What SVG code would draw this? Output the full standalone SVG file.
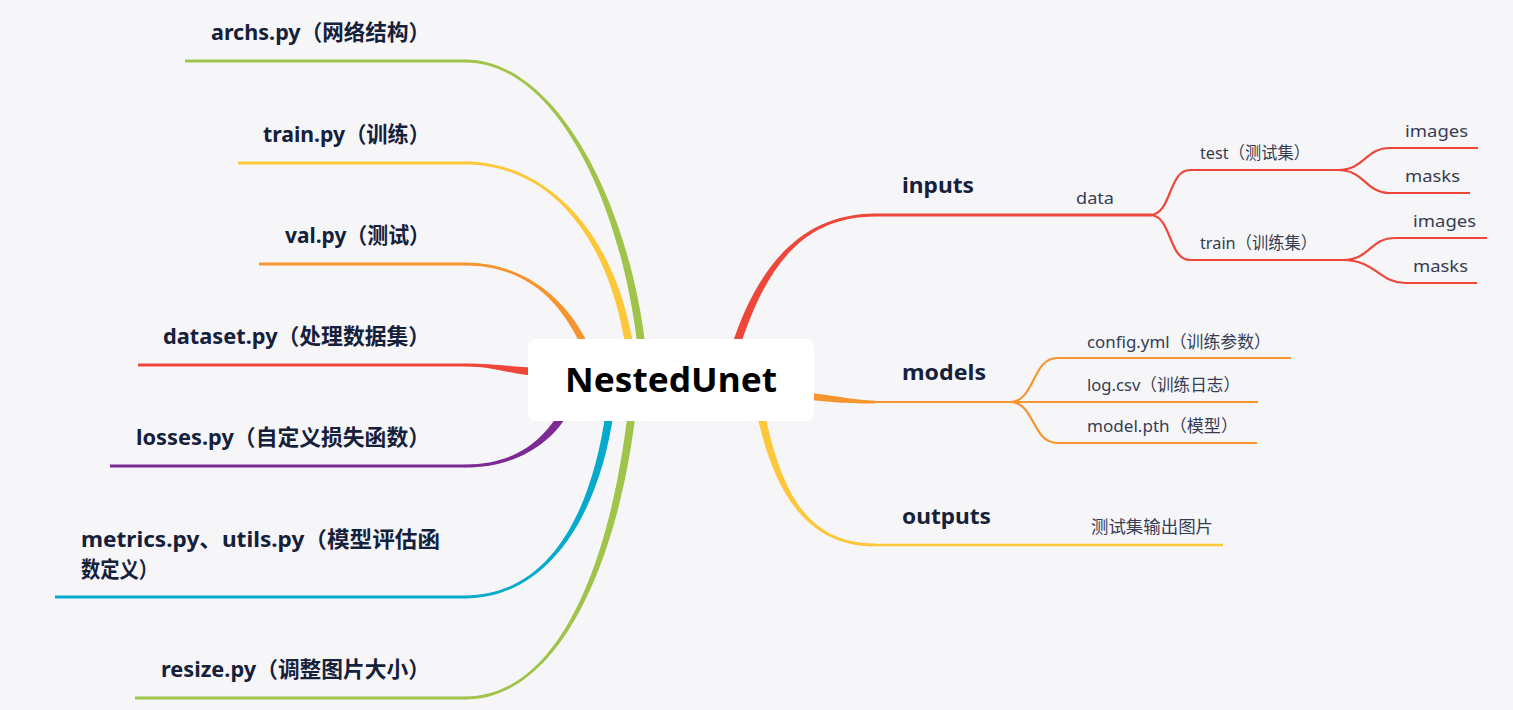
<svg xmlns="http://www.w3.org/2000/svg" width="1513" height="710" viewBox="0 0 1513 710">
<style>
.l1{font-family:"Noto Sans","Noto Sans CJK SC",sans-serif;font-weight:bold;font-size:22px;fill:#15203a}
.l2{font-family:"Noto Sans","Noto Sans CJK SC",sans-serif;font-size:17px;fill:#363d52}
.ln{fill:none;stroke-linecap:butt}
.red{stroke:#ef463a}.org{stroke:#f6952f}.yel{stroke:#fdc73a}.grn{stroke:#a0c34a}.pur{stroke:#7d2b93}.cyn{stroke:#06aacd}
</style>
<rect width="1513" height="710" fill="#f6f6f9"/>
<g id="connectors">
  <line class="ln grn" x1="185" y1="61" x2="466" y2="61" stroke-width="3"/>
  <path fill="#a0c34a" d="M465,59.5 C555,59.5 629,200 646,350 L638,350 C621,200 555,62.5 465,62.5 Z"/>
  <line class="ln yel" x1="238" y1="163" x2="466" y2="163" stroke-width="3"/>
  <path fill="#fdc73a" d="M465,161.5 C545,161.5 616,230 634,350 L626,350 C608,230 545,164.5 465,164.5 Z"/>
  <line class="ln org" x1="259" y1="264" x2="466" y2="264" stroke-width="3"/>
  <path fill="#f6952f" d="M465,262.5 C525,262.5 569,300 591,350 L583,350 C561,300 525,265.5 465,265.5 Z"/>
  <line class="ln red" x1="138" y1="365" x2="466" y2="365" stroke-width="3"/>
  <path fill="#ef463a" d="M465,363.5 C495,363.5 512,367 540,368 L540,376 C512,375 495,366.5 465,366.5 Z"/>
  <line class="ln pur" x1="110" y1="466" x2="466" y2="466" stroke-width="3"/>
  <path fill="#7d2b93" d="M465,464.5 C520,464.5 546,436 562,408 L569,412 C554,440 520,467.5 465,467.5 Z"/>
  <line class="ln cyn" x1="55" y1="597" x2="466" y2="597" stroke-width="3"/>
  <path fill="#06aacd" d="M465,595.5 C545,595.5 591,520 606,410 L614,410 C599,520 545,598.5 465,598.5 Z"/>
  <line class="ln grn" x1="135" y1="698" x2="466" y2="698" stroke-width="3"/>
  <path fill="#a0c34a" d="M465,696.5 C560,696.5 611,560 628,410 L636,410 C619,560 560,699.5 465,699.5 Z"/>
  <path fill="#ef463a" d="M875,216.5 C800,216.5 764,271 739,350 L731,348 C756,269 800,213.5 875,213.5 Z"/>
  <line class="ln red" x1="874" y1="215" x2="1152" y2="215" stroke-width="3"/>
  <path class="ln red" stroke-width="2.2" d="M1150,215 C1172,215 1168,170 1190,170 L1340,170"/>
  <path class="ln red" stroke-width="2.2" d="M1150,215 C1172,215 1168,260 1190,260 L1345,260"/>
  <path class="ln red" stroke-width="2.2" d="M1338,170 C1365,170 1365,148 1390,148 L1478,148"/>
  <path class="ln red" stroke-width="2.2" d="M1338,170 C1365,170 1365,193 1390,193 L1470,193"/>
  <path class="ln red" stroke-width="2.2" d="M1343,260 C1370,260 1370,238 1395,238 L1487,238"/>
  <path class="ln red" stroke-width="2.2" d="M1343,260 C1375,260 1380,283 1405,283 L1477,283"/>
  <path fill="#f6952f" d="M810,393 C840,396 855,400.5 875,400.5 L875,403.5 C855,403.5 840,403 810,400 Z"/>
  <line class="ln org" x1="874" y1="402" x2="1258" y2="402" stroke-width="2.2"/>
  <path class="ln org" stroke-width="2.2" d="M1010,402 C1035,402 1032,358 1057,358 L1291,358"/>
  <path class="ln org" stroke-width="2.2" d="M1010,402 C1035,402 1032,443 1057,443 L1257,443"/>
  <path fill="#fdc73a" d="M875,546.5 C800,546.5 771,481 756,410 L764,410 C779,479 800,543.5 875,543.5 Z"/>
  <line class="ln yel" x1="874" y1="545" x2="1223" y2="545" stroke-width="2.5"/>
</g>
<g id="center">
  <rect x="528" y="339" width="286" height="82" rx="8" fill="#ffffff"/>
  <text x="671" y="392" text-anchor="middle" font-family="Noto Sans, sans-serif" font-weight="bold" font-size="34" fill="#000" textLength="212" lengthAdjust="spacingAndGlyphs">NestedUnet</text>
</g>
<g id="archs"><text class="l1" x="211" y="40" textLength="219" lengthAdjust="spacingAndGlyphs">archs.py（网络结构）</text></g>
<g id="train"><text class="l1" x="263" y="142" textLength="167" lengthAdjust="spacingAndGlyphs">train.py（训练）</text></g>
<g id="val"><text class="l1" x="285" y="243" textLength="145" lengthAdjust="spacingAndGlyphs">val.py（测试）</text></g>
<g id="dataset"><text class="l1" x="163" y="344" textLength="267" lengthAdjust="spacingAndGlyphs">dataset.py（处理数据集）</text></g>
<g id="losses"><text class="l1" x="136" y="445" textLength="294" lengthAdjust="spacingAndGlyphs">losses.py（自定义损失函数）</text></g>
<g id="metrics"><text class="l1" x="81" y="547" textLength="359" lengthAdjust="spacingAndGlyphs">metrics.py、utils.py（模型评估函</text><text class="l1" x="81" y="577" textLength="77" lengthAdjust="spacingAndGlyphs">数定义）</text></g>
<g id="resize"><text class="l1" x="161" y="677" textLength="269" lengthAdjust="spacingAndGlyphs">resize.py（调整图片大小）</text></g>
<g id="inputs"><text class="l1" x="902" y="193" textLength="72" lengthAdjust="spacingAndGlyphs">inputs</text></g>
<g id="data"><text class="l2" x="1076" y="204" textLength="38" lengthAdjust="spacingAndGlyphs">data</text></g>
<g id="test"><text class="l2" x="1200" y="159" textLength="110" lengthAdjust="spacingAndGlyphs">test（测试集）</text></g>
<g id="test-images"><text class="l2" x="1405" y="137" textLength="63" lengthAdjust="spacingAndGlyphs">images</text></g>
<g id="test-masks"><text class="l2" x="1405" y="182" textLength="55" lengthAdjust="spacingAndGlyphs">masks</text></g>
<g id="train-set"><text class="l2" x="1200" y="249" textLength="117" lengthAdjust="spacingAndGlyphs">train（训练集）</text></g>
<g id="train-images"><text class="l2" x="1413" y="227" textLength="63" lengthAdjust="spacingAndGlyphs">images</text></g>
<g id="train-masks"><text class="l2" x="1413" y="272" textLength="55" lengthAdjust="spacingAndGlyphs">masks</text></g>
<g id="models"><text class="l1" x="902" y="380" textLength="84" lengthAdjust="spacingAndGlyphs">models</text></g>
<g id="config"><text class="l2" x="1087" y="348" textLength="184" lengthAdjust="spacingAndGlyphs">config.yml（训练参数）</text></g>
<g id="log"><text class="l2" x="1087" y="391" textLength="153" lengthAdjust="spacingAndGlyphs">log.csv（训练日志）</text></g>
<g id="modelpth"><text class="l2" x="1087" y="432" textLength="151" lengthAdjust="spacingAndGlyphs">model.pth（模型）</text></g>
<g id="outputs"><text class="l1" x="902" y="524" textLength="89" lengthAdjust="spacingAndGlyphs">outputs</text></g>
<g id="outimg"><text class="l2" x="1091" y="533" textLength="122" lengthAdjust="spacingAndGlyphs">测试集输出图片</text></g>
</svg>
